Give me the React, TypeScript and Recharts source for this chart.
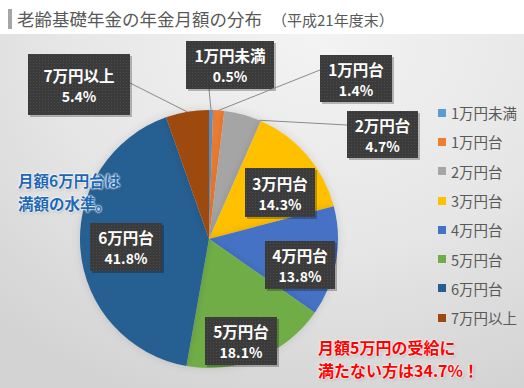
import { PieChart, Pie, Cell, Legend } from "recharts";

const CATEGORIES = ["1万円未満", "1万円台", "2万円台", "3万円台", "4万円台", "5万円台", "6万円台", "7万円以上"];
const SHARES = [0.5, 1.4, 4.7, 14.3, 13.8, 18.1, 41.8, 5.4];
const COLORS = ["#5B9BD5", "#ED7D31", "#A5A5A5", "#FFC000", "#4472C4", "#70AD47", "#255E91", "#9E480E"];
const NOTE_BLUE = ["月額6万円台は", "満額の水準。"];
const NOTE_RED = ["月額5万円の受給に", "満たない方は34.7%！"];

const data = CATEGORIES.map((name, i) => ({ name, value: SHARES[i] }));

// label boxes, offsets from the pie centre; anchor = where the leader line ends
const LABEL_BOXES: { dx: number; dy: number; w: number; h: number; anchor?: [number, number]; lineAngle?: number }[] = [
  { dx: -23, dy: -198, w: 88, h: 48, anchor: [0, -150] },
  { dx: 111, dy: -184, w: 72, h: 47, anchor: [111, -169] },
  { dx: 138, dy: -128, w: 71, h: 47, anchor: [138, -114], lineAngle: 67 },
  { dx: 36, dy: -71, w: 70, h: 49 },
  { dx: 56, dy: 2, w: 70, h: 48 },
  { dx: -4, dy: 78, w: 72, h: 48 },
  { dx: -119, dy: -16, w: 72, h: 48 },
  { dx: -181, dy: -185, w: 102, h: 61, anchor: [-79, -156] },
];

const FONT = "'Noto Sans CJK JP', 'Noto Sans', sans-serif";

const renderLabel = (props: any) => {
  const { cx, cy, outerRadius, midAngle, index, value, name } = props;
  const b = LABEL_BOXES[index];
  const x = cx + b.dx;
  const y = cy + b.dy;
  let leader = null;
  if (b.anchor) {
    const a = ((b.lineAngle ?? midAngle) * Math.PI) / 180;
    leader = (
      <line
        x1={cx + outerRadius * Math.cos(a)}
        y1={cy - outerRadius * Math.sin(a)}
        x2={cx + b.anchor[0]}
        y2={cy + b.anchor[1]}
        stroke="#8a8a8a"
        strokeWidth={1}
      />
    );
  }
  const pad = (b.h - 38) / 2;
  return (
    <g key={`lbl-${index}`}>
      {leader}
      <rect x={x + 2} y={y + 2} width={b.w} height={b.h} fill="rgba(0,0,0,0.25)" />
      <rect x={x} y={y} width={b.w} height={b.h} fill="url(#dots)" />
      <text
        x={x + b.w / 2}
        y={y + pad + 9}
        textAnchor="middle"
        dominantBaseline="central"
        fill="#fff"
        fontSize={15.5}
        fontWeight={700}
        fontFamily={FONT}
      >
        {name}
      </text>
      <text
        x={x + b.w / 2}
        y={y + pad + 30}
        textAnchor="middle"
        dominantBaseline="central"
        fill="#fff"
        fontSize={14}
        fontWeight={700}
        fontFamily={FONT}
      >
        {`${value.toFixed(1)}%`}
      </text>
    </g>
  );
};

const renderLegend = () => (
  <div style={{ fontFamily: FONT }}>
    {CATEGORIES.map((c, i) => (
      <div key={c} style={{ display: "flex", alignItems: "center", height: 29.3 }}>
        <span style={{ width: 8, height: 8, background: COLORS[i], marginRight: 5, display: "inline-block" }} />
        <span style={{ fontSize: 14.5, color: "#595959" }}>{c}</span>
      </div>
    ))}
  </div>
);

const glow = "0 0 2px #fff, 0 0 2px #fff, 0 0 3px #fff, 1px 1px 3px rgba(0,0,0,0.3)";

function Note({ lines, left, top, size, gap, color }: { lines: string[]; left: number; top: number; size: number; gap: number; color: string }) {
  return (
    <>
      {lines.map((t, i) => (
        <div
          key={t}
          style={{
            position: "absolute",
            left,
            top: top + i * gap,
            fontSize: size,
            lineHeight: `${size}px`,
            fontWeight: 700,
            color,
            textShadow: glow,
            whiteSpace: "nowrap",
          }}
        >
          {t}
        </div>
      ))}
    </>
  );
}

export default function App() {
  return (
    <div
      style={{
        position: "absolute",
        left: 0,
        top: 0,
        width: 524,
        height: 388,
        overflow: "hidden",
        background: "#fff",
        fontFamily: FONT,
      }}
    >
      <div
        style={{
          position: "absolute",
          left: 0,
          top: 34,
          width: 524,
          height: 354,
          background: "radial-gradient(ellipse 90% 110% at 60% 0%, #f3f3f3 0%, #e6e6e6 55%, #d3d3d3 100%)",
        }}
      />
      <div style={{ position: "absolute", left: 8, top: 9, width: 4, height: 20, background: "#a6a6a6" }} />
      <div
        style={{
          position: "absolute",
          left: 17,
          top: 6,
          fontSize: 17.5,
          lineHeight: "26px",
          color: "#595959",
          whiteSpace: "nowrap",
        }}
      >
        老齢基礎年金の年金月額の分布
        <span style={{ fontSize: 15, marginLeft: 10 }}>（平成21年度末）</span>
      </div>
      <div style={{ position: "absolute", left: 0, top: 0 }}>
        <PieChart width={524} height={388}>
          <defs>
            <pattern id="dots" width="3" height="3" patternUnits="userSpaceOnUse">
              <rect width="3" height="3" fill="#3b3b3b" />
              <rect width="1" height="1" fill="#4c4c4c" />
            </pattern>
            <filter id="pieShadow" x="-20%" y="-20%" width="140%" height="140%">
              <feDropShadow dx="0" dy="0" stdDeviation="4" floodColor="#000" floodOpacity="0.12" />
            </filter>
          </defs>
          <Pie
            data={data}
            dataKey="value"
            nameKey="name"
            cx={204}
            cy={234}
            outerRadius={129}
            startAngle={90}
            endAngle={-270}
            stroke="none"
            label={renderLabel}
            labelLine={false}
            isAnimationActive={false}
            style={{ filter: "url(#pieShadow)" }}
          >
            {data.map((d, i) => (
              <Cell key={d.name} fill={COLORS[i]} />
            ))}
          </Pie>
          <Legend
            layout="vertical"
            content={renderLegend}
            wrapperStyle={{ position: "absolute", left: 438, top: 98, width: 90 }}
          />
        </PieChart>
      </div>
      <Note lines={NOTE_BLUE} left={18} top={173} size={15.5} gap={23} color="#2068B4" />
      <Note lines={NOTE_RED} left={318} top={339} size={16} gap={23} color="#FF0000" />
    </div>
  );
}
